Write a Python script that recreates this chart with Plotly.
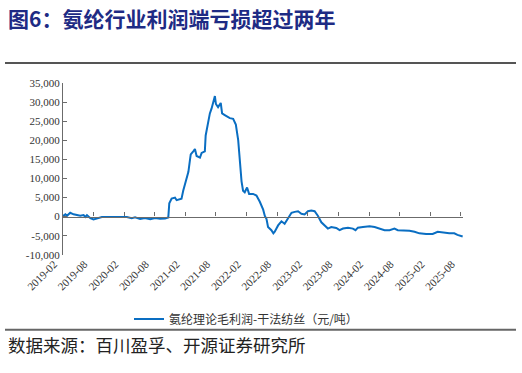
import plotly.graph_objects as go

# ---- data ----
dates = [
    "2019-02-01", "2019-02-15", "2019-02-25", "2019-03-16", "2019-04-05", "2019-04-25",
    "2019-05-15", "2019-06-04", "2019-06-14", "2019-06-24", "2019-07-14", "2019-08-02",
    "2019-08-22", "2019-09-21", "2019-10-20", "2019-11-29", "2020-01-08", "2020-02-17",
    "2020-03-17", "2020-04-06", "2020-05-06", "2020-06-04", "2020-07-05", "2020-08-03",
    "2020-09-02", "2020-10-02", "2020-10-21", "2020-10-27", "2020-11-10", "2020-11-30",
    "2020-12-10", "2021-01-08", "2021-01-18", "2021-01-28", "2021-02-08", "2021-02-18",
    "2021-02-28", "2021-03-04", "2021-03-19", "2021-03-29", "2021-04-08", "2021-04-28",
    "2021-05-08", "2021-05-27", "2021-06-01", "2021-06-16", "2021-06-26", "2021-07-06",
    "2021-07-16", "2021-07-26", "2021-08-01", "2021-08-14", "2021-08-30", "2021-09-07",
    "2021-09-23", "2021-10-23", "2021-11-12", "2021-11-28", "2021-12-12", "2021-12-22",
    "2022-01-01", "2022-01-10", "2022-01-20", "2022-02-03", "2022-02-15", "2022-03-11",
    "2022-03-31", "2022-04-20", "2022-05-10", "2022-05-20", "2022-05-30", "2022-06-08",
    "2022-06-18", "2022-06-28", "2022-07-10", "2022-07-18", "2022-08-07", "2022-08-27",
    "2022-09-15", "2022-10-06", "2022-10-26", "2022-11-14", "2022-12-04", "2022-12-24",
    "2023-01-12", "2023-02-01", "2023-02-21", "2023-03-13", "2023-04-02", "2023-04-22",
    "2023-05-12", "2023-05-31", "2023-06-20", "2023-07-20", "2023-08-09", "2023-08-29",
    "2023-09-28", "2023-10-27", "2023-11-12", "2023-11-26", "2023-12-26", "2024-02-04",
    "2024-03-05", "2024-04-03", "2024-05-03", "2024-06-02", "2024-07-01", "2024-07-21",
    "2024-08-19", "2024-09-29", "2024-10-29", "2024-11-27", "2025-01-06", "2025-02-14",
    "2025-03-16", "2025-04-14", "2025-05-24", "2025-06-23", "2025-07-12", "2025-08-12",
]
profit = [
    200, 600, 200, 1000, 600, 400,
    200, 400, -100, 400, -400, -750,
    -500, -100, -100, -100, 0, -100,
    -400, -200, -650, -400, -700, -400,
    -550, -500, -250, 3470, 4700, 4960,
    4300, 4700, 6770, 8430, 9670, 11730,
    15050, 16290, 17110, 17690, 15870, 15450,
    16690, 17110, 21250, 24970, 27030, 28270,
    29930, 31580, 29510, 28690, 29760, 27030,
    26610, 25790, 25620, 24130, 20010, 14210,
    9250, 6770, 6370, 7610, 5950, 5950,
    5530, 3890, 1810, 170, -670, -2730,
    -3140, -3550, -4390, -3970, -2310, -1240,
    -1900, -250, 990, 1240, 1400, 740,
    580, 1400, 1570, 1400, 170, -1490,
    -2310, -3140, -2730, -2980, -3550, -3140,
    -2900, -3140, -3550, -2900, -2730, -2560,
    -2730, -3140, -3550, -3550, -3140, -3550,
    -3550, -3720, -3970, -4390, -4550, -4550,
    -3970, -4220, -4390, -4390, -4800, -5210,
]
series_name = "氨纶理论毛利润-干法纺丝（元/吨）"
tick_dates = ["2019-02-01", "2019-08-01", "2020-02-01", "2020-08-01", "2021-02-01",
              "2021-08-01", "2022-02-01", "2022-08-01", "2023-02-01", "2023-08-01",
              "2024-02-01", "2024-08-01", "2025-02-01", "2025-08-01"]
tick_labels = ["2019-02", "2019-08", "2020-02", "2020-08", "2021-02", "2021-08", "2022-02",
               "2022-08", "2023-02", "2023-08", "2024-02", "2024-08", "2025-02", "2025-08"]
y_ticks = [-10000, -5000, 0, 5000, 10000, 15000, 20000, 25000, 30000, 35000]
y_labels = ["-10,000", "-5,000", "0", "5,000", "10,000", "15,000", "20,000", "25,000",
            "30,000", "35,000"]
title_text = "图6：氨纶行业利润端亏损超过两年"
source_text = "数据来源：百川盈孚、开源证券研究所"

# ---- layout geometry ----
W, H = 522, 373
L, R, T, B = 63, 59, 83, 109
PW, PH = W - L - R, H - T - B
Y_MIN, Y_MAX = -10000, 35000
X_RANGE = ["2019-02-01", "2025-08-14"]


def px_x(px):
    return (px - L) / PW


def px_y(py):
    return (H - B - py) / PH


serif = "Liberation Serif, Times New Roman, serif"
cjk = "Noto Sans CJK SC, sans-serif"

fig = go.Figure()
fig.add_trace(go.Scatter(
    x=dates, y=profit, mode="lines", name=series_name,
    line=dict(color="#0A6EC2", width=2),
))
# helper (invisible) trace so the zero-level axis is drawn
fig.add_trace(go.Scatter(
    x=[dates[0]], y=[0], xaxis="x2", mode="markers", marker=dict(opacity=0),
    showlegend=False, hoverinfo="skip",
))

fig.update_layout(
    width=W, height=H,
    margin=dict(l=L, r=R, t=T, b=B),
    paper_bgcolor="white", plot_bgcolor="white",
    showlegend=True,
    legend=dict(
        orientation="h", xref="container", yref="container",
        x=129 / W, y=1 - 319 / H, xanchor="left", yanchor="middle",
        font=dict(family=cjk, size=12, color="#333333"),
        itemwidth=30, bgcolor="rgba(0,0,0,0)",
    ),
    xaxis=dict(
        type="date", range=X_RANGE,
        tickvals=tick_dates, ticktext=tick_labels, tickangle=-45,
        ticklabelshift=-9,
        showline=False, ticks="", showgrid=False, zeroline=False,
        tickfont=dict(family=serif, size=11, color="#333333"),
    ),
    xaxis2=dict(
        type="date", range=X_RANGE, overlaying="x", anchor="free",
        position=(0 - Y_MIN) / (Y_MAX - Y_MIN),
        tickvals=tick_dates, showticklabels=False,
        showline=True, linecolor="#6b6b6b", linewidth=1.3,
        ticks="inside", ticklen=4, tickcolor="#6b6b6b", tickwidth=1,
        showgrid=False, zeroline=False,
    ),
    yaxis=dict(
        range=[Y_MIN, Y_MAX], tickvals=y_ticks, ticktext=y_labels,
        showline=True, linecolor="#6b6b6b", linewidth=1.3,
        ticks="inside", ticklen=4, tickcolor="#6b6b6b",
        showgrid=False, zeroline=False,
        tickfont=dict(family=serif, size=11, color="#333333"),
    ),
    shapes=[
        dict(type="line", xref="paper", yref="paper",
             x0=px_x(5), x1=px_x(516), y0=px_y(62), y1=px_y(62),
             line=dict(color="#555555", width=2)),
        dict(type="line", xref="paper", yref="paper",
             x0=px_x(5), x1=px_x(516), y0=px_y(343), y1=px_y(343),
             line=dict(color="#666666", width=2)),
    ],
    annotations=[
        dict(text=title_text, xref="paper", yref="paper",
             x=px_x(6), y=px_y(15), xanchor="left", yanchor="middle",
             showarrow=False,
             font=dict(family=cjk, size=21, color="#1E2B84", weight="bold")),
        dict(text=source_text, xref="paper", yref="paper",
             x=px_x(6), y=px_y(359), xanchor="left", yanchor="middle",
             showarrow=False,
             font=dict(family=cjk, size=17.5, color="#222222")),
    ],
)

fig.write_html(
    "out.html",
    config={"displayModeBar": False},
    post_script="document.body.style.margin='0px';document.body.style.overflow='hidden';",
)
